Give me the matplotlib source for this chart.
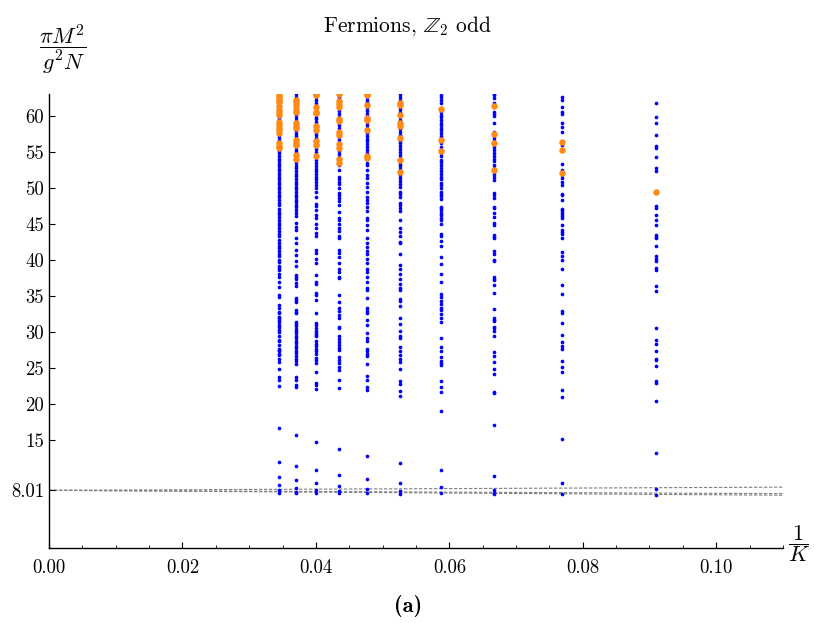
import matplotlib
matplotlib.use("Agg")
import matplotlib.pyplot as plt
import numpy as np
from matplotlib.ticker import FixedLocator, MultipleLocator

plt.rcParams['font.family'] = ['cmr10', 'DejaVu Serif']
plt.rcParams['mathtext.fontset'] = 'cm'
plt.rcParams['axes.unicode_minus'] = False

# harmonic resolution K, points are plotted at 1/K
K_values = [29, 27, 25, 23, 21, 19, 17, 15, 13, 11]

# blue: all states, M^2 in units of g^2 N / pi
blue = {
    29: [63.0, 62.6, 62.3, 62.0, 61.6, 61.3, 60.9, 60.6, 60.2, 59.9, 59.6, 59.2, 58.8, 58.5, 58.2,
         57.8, 57.4, 57.1, 56.7, 56.3, 55.9, 55.6, 55.2, 54.9, 54.5, 54.1, 53.7, 53.4, 53.0, 52.7,
         52.3, 51.9, 51.6, 51.2, 50.8, 50.5, 50.1, 49.8, 49.4, 49.0, 48.7, 48.3, 47.9, 47.6, 47.1,
         46.7, 46.4, 46.0, 45.6, 45.2, 44.9, 44.4, 44.0, 43.6, 43.3, 42.8, 42.4, 42.0, 41.7, 41.3,
         40.9, 40.5, 40.0, 39.7, 39.2, 38.9, 38.6, 38.1, 37.7, 36.9, 36.3, 35.1, 34.9, 33.8, 33.3,
         32.8, 32.6, 32.1, 31.9, 31.7, 31.4, 31.0, 30.7, 30.3, 30.0, 29.4, 28.9, 28.7, 28.2, 27.7,
         27.5, 27.3, 27.0, 26.8, 26.3, 25.9, 24.9, 23.8, 23.4, 22.5, 16.7, 12.0, 9.9, 8.7, 8.0, 7.7],
    27: [63.0, 62.7, 62.3, 61.9, 61.6, 61.2, 60.8, 60.4, 60.1, 59.7, 59.3, 59.0, 58.6, 58.2, 57.9,
         57.5, 57.2, 56.8, 56.4, 56.0, 55.7, 55.3, 55.0, 54.6, 54.2, 53.8, 53.5, 53.1, 52.8, 52.4,
         52.0, 51.7, 51.3, 50.9, 50.6, 50.2, 49.8, 49.5, 49.1, 48.7, 48.4, 48.0, 47.6, 47.3, 46.9,
         46.5, 46.1, 45.1, 44.6, 44.2, 43.0, 42.3, 41.4, 40.7, 39.8, 39.1, 37.9, 37.6, 37.3, 36.8,
         36.4, 34.7, 34.4, 34.2, 33.1, 32.8, 32.6, 31.4, 31.1, 30.8, 30.4, 30.1, 29.8, 29.5, 29.1,
         28.8, 28.5, 28.1, 27.8, 27.4, 27.1, 26.7, 26.3, 26.0, 25.6, 23.8, 23.3, 22.6, 22.4, 15.7,
         11.4, 9.4, 8.4, 7.8, 7.6],
    25: [63.0, 62.6, 62.2, 61.8, 61.5, 61.1, 60.7, 60.3, 59.9, 59.6, 59.2, 58.8, 58.4, 58.0, 57.7,
         57.3, 56.9, 56.5, 56.1, 55.8, 55.4, 55.0, 54.6, 54.2, 53.9, 53.5, 53.1, 52.7, 52.3, 52.0,
         51.6, 51.2, 50.9, 50.4, 50.0, 49.5, 48.8, 47.8, 47.5, 47.0, 46.3, 45.8, 45.0, 44.5, 43.8,
         43.3, 41.4, 41.0, 40.2, 39.6, 37.9, 37.0, 36.6, 35.4, 35.1, 34.5, 32.6, 31.2, 31.0, 30.6,
         30.2, 29.9, 29.6, 29.4, 28.7, 28.3, 28.0, 27.6, 27.3, 26.9, 26.4, 26.1, 25.7, 24.5, 22.9,
         22.7, 22.1, 14.7, 10.8, 9.0, 8.1, 7.7],
    23: [63.0, 62.6, 62.2, 61.8, 61.4, 61.0, 60.7, 60.3, 59.9, 59.5, 59.1, 58.7, 58.3, 57.9, 57.5,
         57.1, 56.7, 56.3, 55.9, 55.5, 55.1, 54.7, 54.3, 53.9, 53.5, 53.2, 52.55, 51.6, 51.3, 50.8,
         50.5, 50.0, 49.3, 49.0, 48.6, 48.2, 47.7, 46.7, 45.9, 45.5, 45.0, 44.5, 44.0, 43.3, 43.1,
         41.4, 41.0, 40.4, 39.6, 38.7, 38.3, 37.7, 37.5, 35.1, 34.1, 33.3, 32.9, 32.4, 31.9, 30.7,
         30.5, 29.4, 29.0, 28.6, 28.2, 27.8, 27.5, 26.5, 26.1, 25.7, 25.2, 24.7, 23.3, 22.2, 13.8,
         10.2, 8.6, 7.9, 7.6],
    21: [63.0, 62.6, 62.2, 61.9, 61.5, 61.1, 60.7, 60.3, 59.9, 59.5, 59.2, 58.8, 58.4, 58.0, 57.6,
         57.2, 56.8, 56.5, 56.1, 55.7, 55.3, 54.9, 54.6, 54.2, 53.5, 53.15, 52.55, 51.8, 51.4, 50.7,
         50.2, 49.5, 48.8, 48.4, 47.9, 47.3, 46.8, 45.9, 45.6, 44.9, 44.2, 43.1, 42.4, 41.8, 41.2,
         40.8, 40.2, 39.6, 38.7, 38.4, 37.6, 37.0, 36.1, 35.9, 34.7, 33.3, 32.9, 32.6, 31.7, 31.0,
         29.9, 29.1, 28.7, 27.7, 27.3, 26.9, 26.6, 25.5, 23.9, 23.3, 22.4, 22.0, 12.8, 9.6, 8.2, 7.7],
    19: [63.0, 62.6, 62.2, 61.8, 61.4, 61.0, 60.6, 60.2, 59.8, 59.4, 59.0, 58.6, 58.2, 57.8, 57.4,
         57.0, 56.6, 56.2, 55.8, 55.4, 55.0, 54.6, 54.2, 53.8, 53.4, 53.0, 52.6, 52.2, 51.8, 51.4,
         51.0, 50.5, 50.1, 49.5, 49.2, 48.7, 47.9, 47.6, 47.2, 46.8, 45.5, 44.45, 43.9, 43.3, 42.5,
         42.3, 40.9, 39.35, 38.7, 38.1, 37.4, 36.6, 36.1, 35.8, 34.6, 34.3, 33.6, 31.95, 31.1, 30.2,
         29.4, 29.1, 27.9, 27.4, 26.8, 26.2, 25.8, 24.9, 23.15, 22.8, 21.8, 21.1, 11.85, 9.0, 7.9, 7.5],
    17: [62.96, 62.6, 62.27, 61.8, 60.56, 60.2, 59.8, 59.5, 59.1, 58.8, 58.4, 58.1, 57.6, 57.2,
         56.9, 56.25, 55.7, 54.9, 54.4, 53.94, 53.6, 53.15, 52.8, 52.3, 52.0, 51.5, 51.2, 50.7, 50.4,
         50.0, 49.5, 49.2, 48.84, 48.5, 47.4, 47.2, 46.9, 46.6, 46.2, 45.83, 45.5, 45.0, 43.6, 43.3,
         42.6, 42.0, 40.37, 39.45, 38.06, 37.0, 35.3, 34.8, 34.26, 33.9, 33.3, 33.0, 32.5, 31.95,
         31.4, 29.1, 27.9, 27.3, 26.5, 26.0, 25.7, 25.4, 23.15, 22.3, 21.62, 19.07, 10.9, 8.5, 7.6],
    15: [63.1, 62.9, 62.5, 61.8, 60.6, 60.3, 60.0, 59.0, 57.8, 57.6, 56.9, 56.5, 55.7, 55.3, 54.9,
         54.5, 54.1, 53.7, 53.2, 52.8, 52.0, 51.6, 51.1, 49.3, 49.0, 48.6, 47.4, 47.2, 46.5, 46.0,
         45.1, 44.9, 43.5, 43.2, 43.0, 41.2, 40.9, 40.0, 39.8, 37.6, 37.4, 37.2, 36.5, 35.4, 33.2,
         31.9, 31.7, 31.5, 30.7, 30.5, 30.2, 29.4, 27.2, 26.6, 25.8, 24.9, 24.1, 21.6, 21.5, 17.1,
         9.95, 8.1, 7.7, 7.45],
    13: [62.59, 62.27, 61.25, 60.56, 60.32, 59.07, 58.52, 57.78, 55.93, 53.38, 52.45, 51.76, 51.44,
         50.88, 50.42, 49.21, 48.98, 48.38, 47.13, 46.9, 46.62, 46.34, 46.11, 45.88, 44.86, 44.12,
         43.84, 43.56, 43.06, 41.06, 40.51, 39.95, 38.8, 36.53, 35.23, 32.87, 32.69, 31.3, 29.54,
         28.66, 28.1, 27.69, 26.02, 25.14, 24.49, 21.99, 20.93, 15.14, 9.07, 7.55],
    11: [61.8, 59.9, 59.07, 57.3, 55.88, 55.5, 54.35, 52.8, 52.4, 47.5, 47.2, 46.3, 45.5, 44.9,
         43.5, 43.2, 43.0, 41.9, 40.6, 40.2, 39.9, 38.84, 38.66, 36.4, 35.7, 30.5, 28.94, 28.4,
         27.36, 26.25, 26.06, 25.3, 23.2, 22.9, 20.4, 13.15, 8.2, 7.3],
}

# orange: highlighted states
orange = {
    29: [62.9, 62.6, 62.2, 61.9, 61.4, 60.8, 60.5, 60.1, 59.2, 58.8, 58.4, 58.0, 57.7, 56.3, 55.9, 55.5],
    27: [62.2, 61.9, 61.5, 61.0, 60.6, 59.0, 58.6, 58.3, 56.7, 56.3, 56.0, 54.6, 54.1],
    25: [63.0, 62.9, 61.2, 60.6, 60.4, 58.6, 58.1, 56.5, 56.0, 54.4],
    23: [63.0, 62.1, 61.7, 61.3, 59.6, 59.3, 57.8, 57.4, 56.1, 55.6, 54.0, 53.5],
    21: [63.0, 62.9, 61.5, 59.7, 59.4, 58.0, 54.5, 54.2],
    19: [61.8, 61.6, 60.2, 59.0, 58.6, 56.9, 53.9, 52.2],
    17: [61.0, 56.7, 55.2],
    15: [61.4, 57.5, 56.2, 52.5],
    13: [56.39, 55.23, 52.04],
    11: [49.5],
}

# extrapolation lines  M^2 = 8.01 + slope / K
fit_intercept = 8.01
fit_slopes = [4.0, -4.2, -6.2]

fig = plt.figure(figsize=(8.14, 6.23), dpi=100)
ax = fig.add_axes([0.0602, 0.1204, 0.9016, 0.7286])

xline = np.array([0.0, 0.11])
for s in fit_slopes:
    ax.plot(xline, fit_intercept + s * xline, ls=(0, (3, 1.5)), color='#808080', lw=0.8, zorder=1)

for K in K_values:
    ax.scatter(np.full(len(blue[K]), 1.0 / K), blue[K], s=7, color='#0000ff', lw=0, zorder=2)
for K in K_values:
    ax.scatter(np.full(len(orange[K]), 1.0 / K), orange[K], s=22, color='#ff8a16', lw=0, zorder=3)

ax.set_xlim(0, 0.11)
ax.set_ylim(0, 63.05)
ax.spines['top'].set_visible(False)
ax.spines['right'].set_visible(False)
ax.spines['left'].set_linewidth(1.0)
ax.spines['bottom'].set_linewidth(1.0)

yticks = [8.01, 15, 20, 25, 30, 35, 40, 45, 50, 55, 60]
ax.yaxis.set_major_locator(FixedLocator(yticks))
ax.set_yticklabels(['8.01'] + [str(int(t)) for t in yticks[1:]])
xticks = [0.0, 0.02, 0.04, 0.06, 0.08, 0.10]
ax.xaxis.set_major_locator(FixedLocator(xticks))
ax.set_xticklabels(['%.2f' % t for t in xticks])
ax.xaxis.set_minor_locator(MultipleLocator(0.005))

ax.tick_params(axis='both', which='major', direction='in', length=4, width=0.8, labelsize=13.5)
ax.tick_params(axis='x', which='minor', direction='in', length=2, width=0.6)
ax.tick_params(axis='x', pad=8)

fig.text(0.5, 0.958, r'Fermions, $\mathbb{Z}_2$ odd', ha='center', va='center', fontsize=15.5)
fig.text(0.077, 0.922, r'$\dfrac{\pi M^2}{g^2 N}$', ha='center', va='center', fontsize=16)
fig.text(0.982, 0.128, r'$\dfrac{1}{K}$', ha='center', va='center', fontsize=16)
fig.text(0.501, 0.027, '(a)', ha='center', va='center', fontsize=16, family='cmb10')

fig.savefig('out.png', dpi=100)
